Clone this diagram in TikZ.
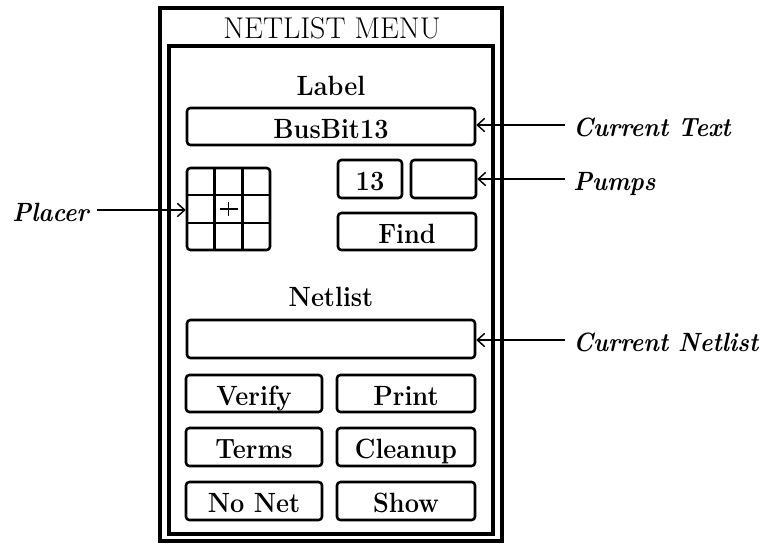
\documentclass[tikz,border=0pt]{standalone}
\usetikzlibrary{arrows.meta,calc}
\def\pxu{0.75pt}
% slightly taller lettering for the menu labels
\newcommand\tallt[1]{\scalebox{1}[1.1]{#1}}
\begin{document}
\begin{tikzpicture}[x=0.75pt,y=-0.75pt,
  frame/.style={draw,line width=2.3pt},
  btn/.style={draw,line width=1.9pt,rounded corners=2.5pt,inner sep=0pt,
    font=\fontsize{19}{23}\selectfont\bfseries,text height=17.5pt,text depth=0pt},
  heading/.style={anchor=base,inner sep=0pt,font=\fontsize{19}{23}\selectfont\bfseries},
  callout/.style={inner ysep=0pt,inner xsep=6pt,text height=16.5pt,text depth=0pt,
    font=\fontsize{18}{22}\selectfont\bfseries\itshape},
  pointer/.style={line width=1.1pt,-{Straight Barb[length=5.5pt,width=10pt,line width=1.1pt]}}]
\useasboundingbox (0,0) rectangle (768,544);

% menu frames
\draw[frame] (160,8) rectangle (502,541);
\draw[frame] (169,46) rectangle (493,534);
\node[anchor=base,inner sep=0pt,font=\fontsize{22.5}{27}\selectfont] (title) at (332,38) {NETLIST MENU};

% label section
\node[heading] (labelhead) at (331,95) {\tallt{Label}};
\node[btn,minimum width=288*\pxu,minimum height=37*\pxu] (busbit) at (331,126.5) {\tallt{BusBit13}};
\node[btn,minimum width=64*\pxu,minimum height=38*\pxu] (pump1) at (370,179) {\tallt{13}};
\node[btn,minimum width=65*\pxu,minimum height=38*\pxu] (pump2) at (443.5,179) {};
\node[btn,minimum width=138*\pxu,minimum height=37*\pxu] (find) at (407,231.5) {\tallt{Find}};

% placer grid
\node[draw,line width=1.9pt,rounded corners=2.5pt,inner sep=0pt,
  minimum width=83*\pxu,minimum height=82*\pxu] (placer) at (228.5,209) {};
\foreach \f in {1/3,2/3}{
  \draw[line width=1.9pt] ($(placer.north west)!\f!(placer.north east)$) -- ($(placer.south west)!\f!(placer.south east)$);
  \draw[line width=1.9pt] ($(placer.north west)!\f!(placer.south west)$) -- ($(placer.north east)!\f!(placer.south east)$);
}
\draw[line width=1.2pt] ($(placer.center)+(-9,0)$) -- ($(placer.center)+(9,0)$);
\draw[line width=1.2pt] ($(placer.center)+(0,-7)$) -- ($(placer.center)+(0,7)$);

% netlist section
\node[heading] (nethead) at (331,306) {\tallt{Netlist}};
\node[btn,minimum width=288*\pxu,minimum height=38*\pxu] (netbox) at (331,339) {};
\node[btn,minimum width=136*\pxu,minimum height=37*\pxu] (verify) at (254,393.5) {\tallt{Verify}};
\node[btn,minimum width=138*\pxu,minimum height=37*\pxu] (print) at (406,393.5) {\tallt{Print}};
\node[btn,minimum width=136*\pxu,minimum height=38*\pxu] (terms) at (254,447) {\tallt{Terms}};
\node[btn,minimum width=138*\pxu,minimum height=38*\pxu] (cleanup) at (406,447) {\tallt{Cleanup}};
\node[btn,minimum width=136*\pxu,minimum height=38*\pxu] (nonet) at (254,501) {\tallt{No Net}};
\node[btn,minimum width=138*\pxu,minimum height=38*\pxu] (show) at (406,501) {\tallt{Show}};

% callouts
\node[callout,anchor=west] (ctext) at (565,125) {\tallt{Current Text}};
\node[callout,anchor=west] (cpumps) at (565,179) {\tallt{Pumps}};
\node[callout,anchor=west] (cnet) at (565,340) {\tallt{Current Netlist}};
\node[callout,anchor=east] (cplacer) at (97,210) {\tallt{Placer}};

\draw[pointer] (ctext.west) -- (ctext.west -| busbit.east);
\draw[pointer] (cpumps.west) -- (pump2.east);
\draw[pointer] (cnet.west) -- (cnet.west -| netbox.east);
\draw[pointer] (cplacer.east) -- (cplacer.east -| placer.west);
\end{tikzpicture}
\end{document}
